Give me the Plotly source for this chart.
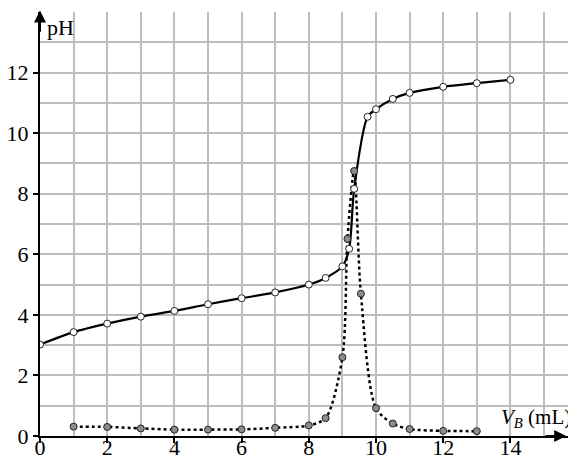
import plotly.graph_objects as go

# Titration curve: pH versus added base volume
v_ph = [0, 1, 2, 3, 4, 5, 6, 7, 8, 8.5, 9, 9.2, 9.35, 9.75, 10, 10.5, 11, 12, 13, 14]
ph = [3.02, 3.43, 3.71, 3.94, 4.13, 4.35, 4.55, 4.74, 5.0, 5.22, 5.6, 6.18, 8.16,
      10.54, 10.79, 11.13, 11.33, 11.53, 11.65, 11.76]

# Derivative-style curve (gray points, dotted line)
v_d = [1, 2, 3, 4, 5, 6, 7, 8, 8.5, 9, 9.15, 9.35, 9.55, 10, 10.5, 11, 12, 13]
d = [0.31, 0.30, 0.25, 0.21, 0.21, 0.22, 0.27, 0.35, 0.59, 2.6, 6.51, 8.75, 4.7,
     0.92, 0.41, 0.23, 0.17, 0.16]

x_ticks = [0, 2, 4, 6, 8, 10, 12, 14]
y_ticks = [0, 2, 4, 6, 8, 10, 12]

FONT = "Liberation Serif, Times New Roman, serif"
GRID = "#bdbdbd"

fig = go.Figure()

# lines first, markers on top
fig.add_trace(go.Scatter(x=v_d, y=d, mode="lines", line=dict(color="black", width=2.5, dash="dot", shape="spline", smoothing=0.8), hoverinfo="skip"))
fig.add_trace(go.Scatter(x=v_ph, y=ph, mode="lines", line=dict(color="black", width=2.2, shape="spline", smoothing=0.8), hoverinfo="skip"))
fig.add_trace(go.Scatter(x=v_d, y=d, mode="markers", marker=dict(size=7, color="#8c8c8c", line=dict(color="#222", width=1))))
fig.add_trace(go.Scatter(x=v_ph, y=ph, mode="markers", marker=dict(size=7, color="white", line=dict(color="#222", width=1))))

axis_common = dict(
    ticks="outside", ticklen=5, tickwidth=1.5, tickcolor="black",
    showgrid=True, gridcolor=GRID, gridwidth=1.5,
    minor=dict(dtick=1, tick0=0, showgrid=True, gridcolor=GRID, gridwidth=1.5, ticks=""),
    showline=True, linecolor="black", linewidth=2, zeroline=False,
    tickfont=dict(family=FONT, size=22, color="black"),
    automargin=False,
)

fig.update_layout(
    template="none",
    width=568, height=462,
    margin=dict(l=40, r=0, t=12, b=26, autoexpand=False),
    paper_bgcolor="white", plot_bgcolor="white",
    showlegend=False,
    font=dict(family=FONT, size=22, color="black"),
    xaxis=dict(range=[0, 528 / 33.6], tickvals=x_ticks, ticklabelstandoff=-14, **axis_common),
    yaxis=dict(range=[0, 14], tickvals=y_ticks, **axis_common),
)

# axis arrows
fig.add_annotation(x=0, y=14.05, ax=0, ay=13.3, xref="x", yref="y", axref="x", ayref="y",
                   text="", showarrow=True, arrowhead=2, arrowsize=1.2, arrowwidth=2, arrowcolor="black")
fig.add_annotation(x=15.66, y=0, ax=15.0, ay=0, xref="x", yref="y", axref="x", ayref="y",
                   text="", showarrow=True, arrowhead=2, arrowsize=1.2, arrowwidth=2, arrowcolor="black")

# axis titles
fig.add_annotation(x=0, y=13.5, xref="x", yref="y", text="pH", showarrow=False,
                   xanchor="left", yanchor="middle", xshift=5, font=dict(family=FONT, size=22))
fig.add_annotation(x=13.66, y=0.6, xref="x", yref="y", text="<i>V</i><sub><i>B</i></sub> (mL)",
                   showarrow=False, xanchor="left", yanchor="middle", font=dict(family=FONT, size=21))

fig.write_html("out.html")
